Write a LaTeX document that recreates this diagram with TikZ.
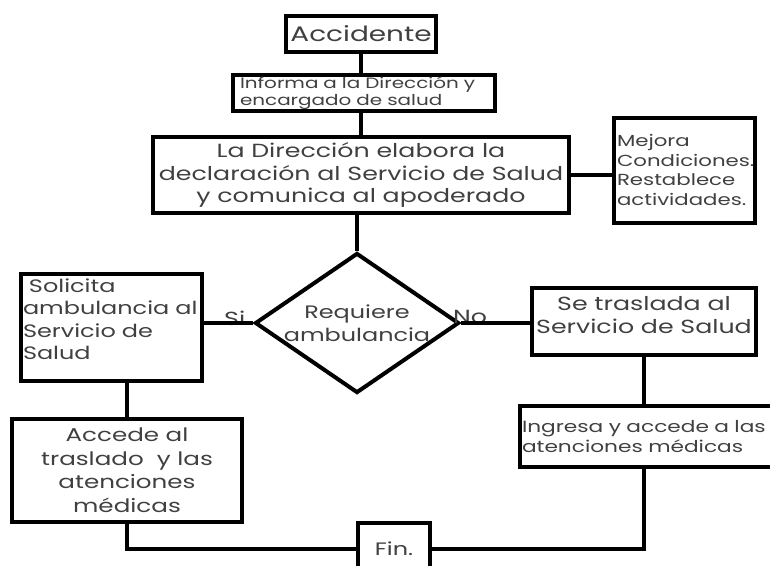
\documentclass[tikz,border=0pt]{standalone}
\usepackage{fontspec}
\setmainfont{Poppins}[FakeStretch=1.33]
\usetikzlibrary{shapes.geometric}

\tikzset{
  box/.style={draw, line width=4pt, inner sep=2pt, text=black!75},
  link/.style={line width=4pt},
}

\begin{document}
\begin{tikzpicture}[x=1pt, y=-1pt]
\useasboundingbox (0, 0) rectangle (770, 565);

\node[box, minimum width=150, minimum height=36, font=\fontsize{21}{24}\selectfont] (accidente) at (361, 34) {Accidente};
\node[box, minimum width=262, minimum height=36, text width=248, align=left, font=\fontsize{15}{17}\selectfont] (informa) at (364, 93) {Informa\ a la Dirección y\\encargado de salud};
\node[box, minimum width=416, minimum height=76, align=center, font=\fontsize{19}{22.5}\selectfont] (direccion) at (361, 175) {La Dirección elabora la\\declaración al Servicio de Salud\\y comunica al apoderado};
\node[box, minimum width=141, minimum height=105, text width=134, align=left, font=\fontsize{16}{19.5}\selectfont] (mejora) at (684, 170) {Mejora\\Condiciones.\\Restablece\\actividades.};

\node[box, diamond, aspect=1.457, inner sep=-4pt, minimum width=204, minimum height=140, align=center, font=\fontsize{18}{23}\selectfont] (requiere) at (357, 323) {Requiere\\ambulancia};

\node[box, minimum width=181, minimum height=107] (solicita) at (111, 327) {};
\node[text=black!75, text width=180, align=left, font=\fontsize{18}{22.5}\selectfont] (solicitaTxt) at (113, 319) {\ Solicita\\ambulancia al\\Servicio de\\Salud};
\node[box, minimum width=224, minimum height=67, text depth=12pt, align=center, font=\fontsize{19}{23}\selectfont] (traslada) at (644, 321) {Se traslada al\\Servicio de Salud};

\node[box, minimum width=230, minimum height=103, align=center, font=\fontsize{18.5}{23.5}\selectfont] (accede) at (127, 470) {Accede al\\traslado\ \ y las\\atenciones\\médicas};
\node[box, minimum width=256, minimum height=61, text depth=19pt, text width=252, align=left, font=\fontsize{16.3}{20}\selectfont] (ingresa) at (648, 436) {Ingresa y accede a las\\atenciones médicas};
\node[box, minimum width=72, minimum height=52, font=\fontsize{18}{22}\selectfont] (fin) at (394, 549) {Fin.};

\node[text=black!75, font=\fontsize{19}{22}\selectfont, anchor=west, inner sep=0pt] (si) at (224, 318) {Si};
\node[text=black!75, font=\fontsize{19}{22}\selectfont, anchor=west, inner sep=0pt] (no) at (453, 317) {No};

\draw[link] (accidente.south) -- (accidente.south |- informa.north);
\draw[link] (accidente.south |- informa.south) -- (accidente.south |- direccion.north);
\draw[link] (direccion.east) -- (direccion.east -| mejora.west);
\draw[link] (requiere.north |- direccion.south) -- (requiere.north);
\draw[link] (requiere.west) -- (requiere.west -| solicita.east);
\draw[link] (requiere.east) -- (requiere.east -| traslada.west);
\draw[link] (accede.north) -- (accede.north |- solicita.south);
\draw[link] (traslada.south) -- (traslada.south |- ingresa.north);
\draw[link] (accede.south) |- (fin.west);
\draw[link] (traslada.south |- ingresa.south) |- (fin.east);
\end{tikzpicture}
\end{document}
